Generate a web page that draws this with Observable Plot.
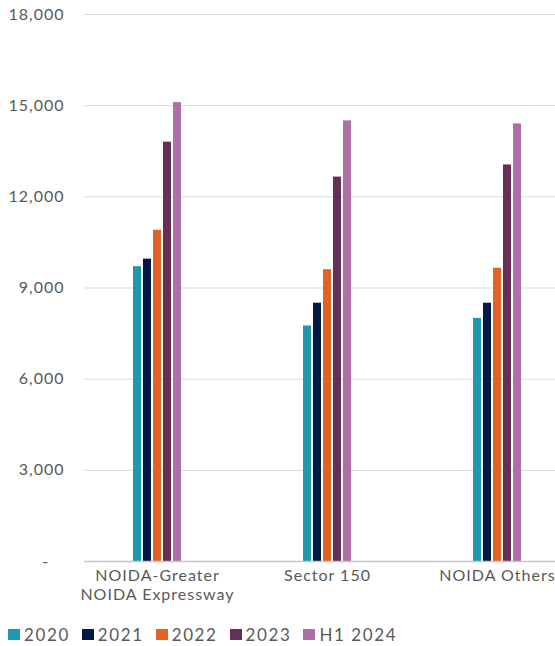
<!DOCTYPE html>
<html>
<head>
<meta charset="utf-8">
<script src="https://cdn.jsdelivr.net/npm/d3@7"></script>
<script src="https://cdn.jsdelivr.net/npm/@observablehq/plot@0.6"></script>
<style>
  html, body { margin: 0; padding: 0; background: #ffffff; overflow: hidden; }
  #chart svg { display: block; }
  #chart svg text { letter-spacing: 1px; }
  .legend { display: flex; align-items: center; margin: 11px 0 0 8px; height: 22px;
            font-family: Lato, sans-serif; font-size: 17px; color: #595959; letter-spacing: 1.6px; }
  .legend .item { display: flex; align-items: center; margin-right: 12px; }
  .legend .sw { width: 12px; height: 11px; margin-right: 4px; }
</style>
</head>
<body>
<div id="chart"></div>
<script>
// Micro-markets and reporting periods
const categories = ["NOIDA-Greater NOIDA Expressway", "Sector 150", "NOIDA Others"];
const categoryLabels = ["NOIDA-Greater\nNOIDA Expressway", "Sector 150", "NOIDA Others"];
const series = ["2020", "2021", "2022", "2023", "H1 2024"];
const seriesColors = ["#1d98ae", "#011a47", "#e26324", "#672e57", "#ae6fa6"];

// Values per period, one entry per micro-market (in category order)
const values2020 = [9700, 7750, 8000];
const values2021 = [9950, 8500, 8500];
const values2022 = [10900, 9600, 9650];
const values2023 = [13800, 12650, 13050];
const valuesH12024 = [15100, 14500, 14400];

const yTicks = [0, 3000, 6000, 9000, 12000, 15000, 18000];

const seriesValues = [values2020, values2021, values2022, values2023, valuesH12024];
const rows = [];
categories.forEach((c, i) => {
  series.forEach((s, j) => rows.push({category: c, series: s, value: seriesValues[j][i]}));
});

const fmt = d => d === 0 ? "-\u00a0\u00a0\u00a0" : d3.format(",")(d);
const labelOf = new Map(categories.map((c, i) => [c, categoryLabels[i]]));

// Facets tile the plot area without gaps so the gridlines run continuously;
// the last facet extends past the right edge.
const chart = Plot.plot({
  width: 555,
  height: 612,
  marginLeft: 83,
  marginRight: 0,
  marginTop: 14,
  marginBottom: 51,
  style: {fontFamily: "Lato, sans-serif", fontSize: "16px", color: "#595959", background: "#ffffff"},
  fx: {domain: categories, range: [83, 595], paddingInner: 0, paddingOuter: 0, axis: null, label: null},
  x: {domain: series, paddingInner: 0.16, paddingOuter: 5.518, align: 0.399, axis: null, label: null},
  y: {domain: [0, 18000], axis: null, label: null},
  color: {domain: series, range: seriesColors},
  marks: [
    Plot.ruleY(yTicks.filter(d => d > 0), {stroke: "#d9d9d9", strokeWidth: 1}),
    Plot.text(yTicks, {fx: () => categories[0], y: d => d, text: fmt, frameAnchor: "left",
                       textAnchor: "end", dx: -20, fill: "#595959", fontSize: 16}),
    Plot.barY(rows, {fx: "category", x: "series", y: "value", fill: "series"}),
    Plot.ruleY([0], {stroke: "#c8c8c8", strokeWidth: 1.5}),
    Plot.text(categories, {fx: d => d, x: () => series[2], text: d => labelOf.get(d), frameAnchor: "bottom",
                           lineAnchor: "top", dy: 6, lineHeight: 1.19, fill: "#595959", fontSize: 16})
  ]
});

document.getElementById("chart").appendChild(chart);

// Swatch legend below the plot
const legend = document.createElement("div");
legend.className = "legend";
const colorScale = chart.scale("color");
colorScale.domain.forEach((s, i) => {
  const item = document.createElement("span");
  item.className = "item";
  const sw = document.createElement("span");
  sw.className = "sw";
  sw.style.background = colorScale.range[i];
  const label = document.createElement("span");
  label.textContent = s;
  item.appendChild(sw);
  item.appendChild(label);
  legend.appendChild(item);
});
document.getElementById("chart").appendChild(legend);
</script>
</body>
</html>
